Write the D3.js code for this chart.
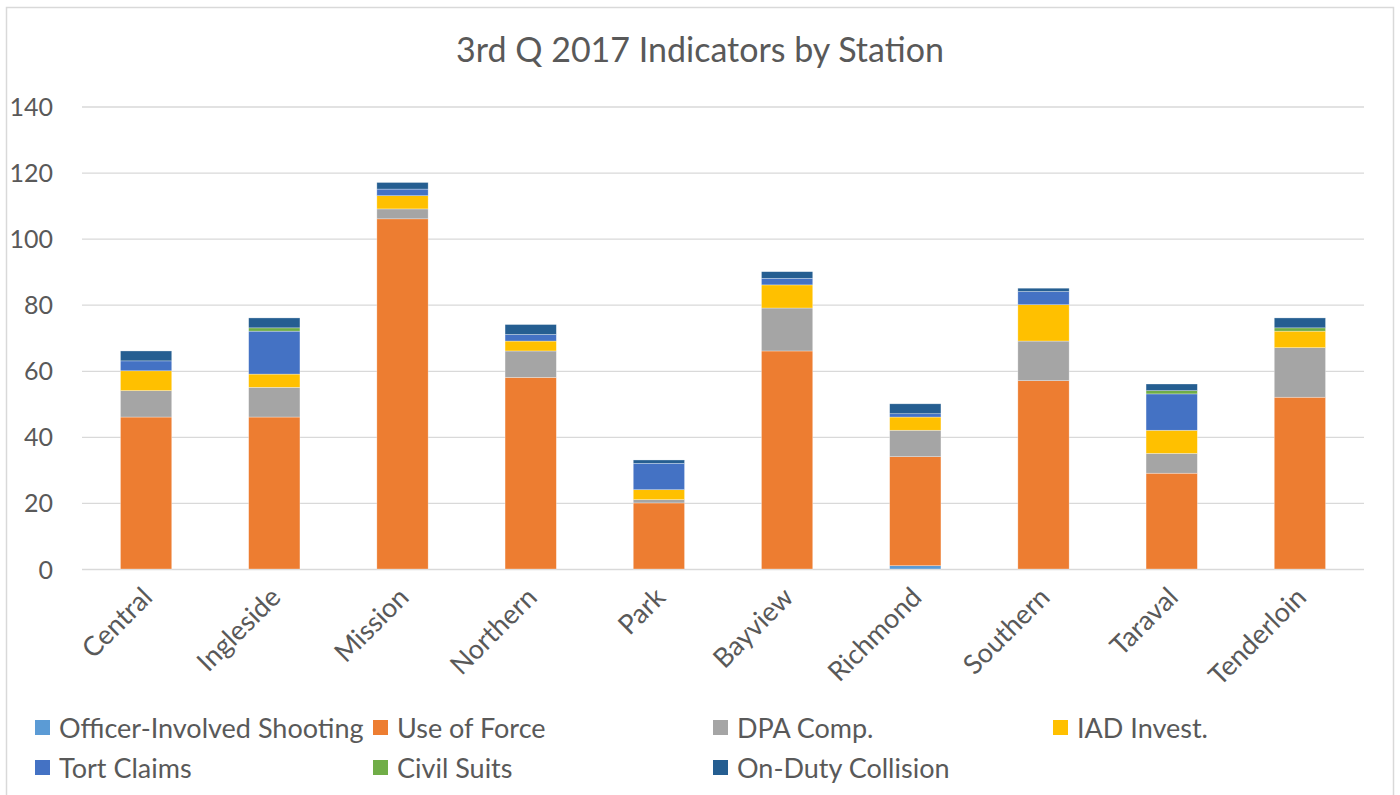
<!DOCTYPE html>
<html>
<head>
<meta charset="utf-8">
<script src="https://cdnjs.cloudflare.com/ajax/libs/d3/7.8.5/d3.min.js"></script>
<style>
    body { margin: 0; background: #fff; }
    svg text { font-family: Lato, 'Open Sans', sans-serif; fill: #595959; }
</style>
</head>
<body>
<svg id="chart" width="1400" height="795"></svg>
<script>
var title = '3rd Q 2017 Indicators by Station';

var stations = ['Central', 'Ingleside', 'Mission', 'Northern', 'Park',
                'Bayview', 'Richmond', 'Southern', 'Taraval', 'Tenderloin'];

var series = ['Officer-Involved Shooting', 'Use of Force', 'DPA Comp.',
              'IAD Invest.', 'Tort Claims', 'Civil Suits', 'On-Duty Collision'];

// values, one array per series, station order
var shooting  = [0, 0, 0, 0, 0, 0, 1, 0, 0, 0];
var useforce  = [46, 46, 106, 58, 20, 66, 33, 57, 29, 52];
var dpa       = [8, 9, 3, 8, 1, 13, 8, 12, 6, 15];
var iad       = [6, 4, 4, 3, 3, 7, 4, 11, 7, 5];
var tort      = [3, 13, 2, 2, 8, 2, 1, 4, 11, 0];
var civil     = [0, 1, 0, 0, 0, 0, 0, 0, 1, 1];
var collision = [3, 3, 2, 3, 1, 2, 3, 1, 2, 3];

var yticks = [0, 20, 40, 60, 80, 100, 120, 140];

var colors = d3.scaleOrdinal()
    .domain(series)
    .range(['#5B9BD5', '#ED7D31', '#A5A5A5', '#FFC000', '#4472C4', '#70AD47', '#255E91']);

var svg = d3.select('#chart');
var margin = {left: 82, right: 1364, top: 106.5, bottom: 569};

var table = stations.map(function(s, i) {
    var row = {station: s};
    [shooting, useforce, dpa, iad, tort, civil, collision].forEach(function(arr, j) {
        row[series[j]] = arr[i];
    });
    return row;
});

var stack = d3.stack().keys(series)(table);

var x = d3.scaleBand()
    .domain(stations)
    .range([margin.left, margin.right])
    .paddingInner(0.6)
    .paddingOuter(0.3);

var y = d3.scaleLinear()
    .domain([0, 140])
    .range([margin.bottom, margin.top]);

// chart border
svg.append('rect')
    .attr('x', 6.5).attr('y', 7.5)
    .attr('width', 1387).attr('height', 790)
    .attr('fill', 'none')
    .attr('stroke', '#d9d9d9')
    .attr('stroke-width', 1.5);

svg.append('text')
    .attr('x', 700).attr('y', 62)
    .attr('text-anchor', 'middle')
    .style('font-size', '34px')
    .text(title);

// gridlines + y labels
var yaxis = svg.append('g')
    .attr('transform', 'translate(' + margin.left + ',0)')
    .call(d3.axisLeft(y).tickValues(yticks).tickSize(-(margin.right - margin.left)).tickPadding(30));
yaxis.select('.domain').remove();
yaxis.selectAll('.tick line').attr('stroke', '#d9d9d9').attr('stroke-width', 1.3);
yaxis.selectAll('.tick text')
    .style('font-size', '25px')
    .attr('x', -29)
    .attr('dy', '0.36em');

// bars
svg.append('g').selectAll('g')
    .data(stack)
    .join('g')
        .attr('fill', function(d) { return colors(d.key); })
    .selectAll('rect')
    .data(function(d) { return d; })
    .join('rect')
        .attr('x', function(d) { return x(d.data.station); })
        .attr('width', x.bandwidth())
        .attr('y', function(d) { return y(d[1]); })
        .attr('height', function(d) { return y(d[0]) - y(d[1]); })
        .attr('stroke', '#fff')
        .attr('stroke-opacity', 0.5)
        .attr('stroke-width', function(d) { return d[1] > d[0] ? 0.6 : 0; });

// category labels
svg.append('g').selectAll('text')
    .data(stations)
    .join('text')
        .attr('text-anchor', 'end')
        .attr('transform', function(d) {
            return 'translate(' + (x(d) + x.bandwidth() / 2 + 8) + ',' + 599 + ') rotate(-45)';
        })
        .style('font-size', '27px')
        .text(function(d) { return d; });

// legend
var legx = [35, 373, 713, 1053];
var legend = svg.append('g').selectAll('g')
    .data(series)
    .join('g')
        .attr('transform', function(d, i) {
            return 'translate(' + legx[i % 4] + ',' + (728 + Math.floor(i / 4) * 40) + ')';
        });
legend.append('rect')
    .attr('y', -8)
    .attr('width', 15).attr('height', 15)
    .attr('fill', function(d) { return colors(d); });
legend.append('text')
    .attr('x', 24)
    .attr('dy', '0.36em')
    .style('font-size', '27px')
    .text(function(d) { return d; });
</script>
</body>
</html>
